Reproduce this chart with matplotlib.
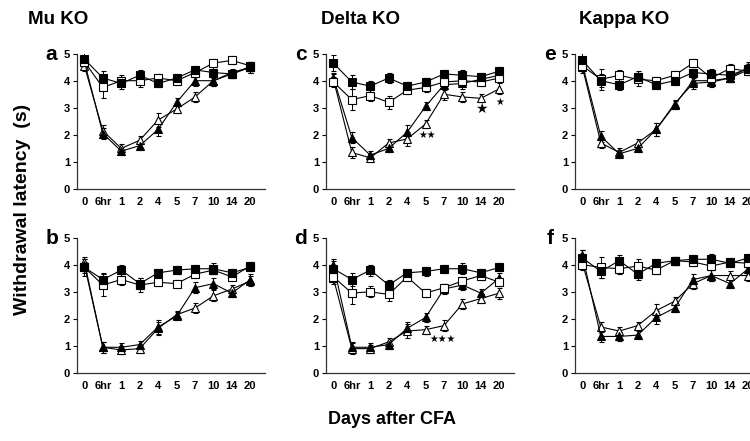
import matplotlib
matplotlib.use("Agg")
import matplotlib.pyplot as plt

plt.rcParams['font.family'] = ['Liberation Sans', 'DejaVu Sans']
plt.rcParams['font.weight'] = 'bold'

days = ["0", "6hr", "1", "2", "4", "5", "7", "10", "14", "20"]
titles = ["Mu KO", "Delta KO", "Kappa KO"]

# panel -> (filled square, open square, filled triangle, open triangle)
a_fsq = [4.8, 4.1, 3.9, 4.2, 3.9, 4.1, 4.4, 4.3, 4.25, 4.5]
a_osq = [4.7, 3.75, 4.0, 4.0, 4.1, 4.0, 4.3, 4.65, 4.75, 4.55]
a_ftr = [4.7, 2.05, 1.4, 1.6, 2.2, 3.2, 4.0, 4.0, 4.25, 4.5]
a_otr = [4.55, 2.15, 1.5, 1.8, 2.55, 2.95, 3.4, 4.0, 4.3, 4.5]

b_fsq = [3.9, 3.45, 3.8, 3.3, 3.7, 3.8, 3.85, 3.85, 3.7, 3.9]
b_osq = [3.9, 3.25, 3.45, 3.25, 3.35, 3.3, 3.65, 3.8, 3.55, 3.95]
b_ftr = [4.0, 0.95, 0.95, 1.05, 1.7, 2.1, 3.15, 3.3, 2.95, 3.45]
b_otr = [4.1, 0.95, 0.85, 0.9, 1.65, 2.15, 2.4, 2.85, 3.1, 3.4]

c_fsq = [4.65, 3.95, 3.8, 4.1, 3.8, 3.95, 4.25, 4.2, 4.15, 4.35]
c_osq = [3.95, 3.3, 3.45, 3.2, 3.65, 3.75, 3.95, 4.0, 3.95, 4.1]
c_ftr = [4.1, 1.9, 1.25, 1.5, 2.1, 3.05, 3.85, 3.9, 4.05, 4.2]
c_otr = [4.05, 1.35, 1.15, 1.7, 1.85, 2.4, 3.5, 3.4, 3.35, 3.7]

d_fsq = [3.85, 3.45, 3.8, 3.25, 3.7, 3.75, 3.85, 3.85, 3.7, 3.9]
d_osq = [3.55, 2.95, 3.0, 2.9, 3.55, 2.95, 3.15, 3.4, 3.6, 3.35]
d_ftr = [4.0, 0.95, 0.95, 1.05, 1.65, 2.05, 3.1, 3.25, 2.95, 3.5]
d_otr = [3.5, 0.9, 0.9, 1.15, 1.55, 1.6, 1.75, 2.55, 2.75, 2.95]

e_fsq = [4.75, 4.0, 3.85, 4.15, 3.85, 4.0, 4.3, 4.25, 4.2, 4.45]
e_osq = [4.55, 4.05, 4.2, 4.05, 4.0, 4.2, 4.65, 4.1, 4.45, 4.35]
e_ftr = [4.6, 1.95, 1.3, 1.5, 2.2, 3.15, 3.9, 3.95, 4.1, 4.5]
e_otr = [4.5, 1.7, 1.35, 1.7, 2.2, 3.1, 4.0, 4.0, 4.1, 4.4]

f_fsq = [4.25, 3.75, 4.15, 3.65, 4.05, 4.15, 4.2, 4.2, 4.05, 4.25]
f_osq = [4.0, 3.9, 3.85, 3.95, 3.8, 4.15, 4.1, 3.95, 4.1, 4.05]
f_ftr = [4.35, 1.35, 1.35, 1.4, 2.05, 2.4, 3.45, 3.6, 3.3, 3.85]
f_otr = [4.05, 1.7, 1.55, 1.75, 2.3, 2.65, 3.3, 3.6, 3.6, 3.6]

# error bar sizes (SEM), read roughly
err_sq = [0.3, 0.25, 0.2, 0.2, 0.15, 0.15, 0.15, 0.2, 0.15, 0.15]
err_osq = [0.2, 0.4, 0.2, 0.25, 0.15, 0.15, 0.15, 0.15, 0.15, 0.15]
err_tr = [0.2, 0.2, 0.15, 0.15, 0.25, 0.15, 0.2, 0.2, 0.15, 0.2]

panels = {
    "a": (a_fsq, a_osq, a_ftr, a_otr),
    "b": (b_fsq, b_osq, b_ftr, b_otr),
    "c": (c_fsq, c_osq, c_ftr, c_otr),
    "d": (d_fsq, d_osq, d_ftr, d_otr),
    "e": (e_fsq, e_osq, e_ftr, e_otr),
    "f": (f_fsq, f_osq, f_ftr, f_otr),
}
layout = [("a", 0, 0), ("b", 1, 0), ("c", 0, 1), ("d", 1, 1), ("e", 0, 2), ("f", 1, 2)]

# significance stars: panel, x index, y, text, size
stars = [("c", 5.1, 2.0, "★★", 7), ("c", 8, 2.95, "★", 10),
         ("c", 9, 3.2, "★", 7), ("d", 5.9, 1.25, "★★★", 7)]

fig = plt.figure(figsize=(7.5, 4.41), dpi=100)
lefts = [0.1027, 0.4347, 0.7667]
bottoms = [0.5714, 0.1542]
x = list(range(len(days)))
axes = {}

for name, row, col in layout:
    ax = fig.add_axes([lefts[col], bottoms[row], 0.2507, 0.307])
    axes[name] = ax
    fsq, osq, ftr, otr = panels[name]
    styles = [(otr, "^", "white", err_tr, 5.5), (ftr, "^", "black", err_tr, 5.5),
              (osq, "s", "white", err_osq, 5.5), (fsq, "s", "black", err_sq, 5.5)]
    for vals, mk, fc, err, ms in styles:
        ax.errorbar(x, vals, yerr=err, color="black", lw=0.8, marker=mk,
                    mfc=fc, mec="black", mew=0.8, ms=ms, capsize=1.8,
                    elinewidth=0.7, capthick=0.7)
    ax.set_xlim(-0.4, 9.8)
    ax.set_ylim(0, 5)
    ax.set_yticks([0, 1, 2, 3, 4, 5])
    ax.set_xticks(x)
    ax.set_xticklabels(days)
    for s in ["top", "right"]:
        ax.spines[s].set_visible(False)
    for s in ["left", "bottom"]:
        ax.spines[s].set_linewidth(0.9)
        ax.spines[s].set_color("#333333")
    ax.tick_params(axis="y", length=3, width=0.8, labelsize=8, pad=2)
    ax.tick_params(axis="x", length=0, labelsize=8, pad=6)
    for lab in ax.get_xticklabels() + ax.get_yticklabels():
        lab.set_fontweight("bold")
    ax.text(-0.135, 0.99, name, transform=ax.transAxes, fontsize=15,
            fontweight="bold", ha="center", va="center")

for p, xi, yv, txt, sz in stars:
    axes[p].text(xi, yv, txt, ha="center", va="center", fontsize=sz,
                 family="DejaVu Sans", color="black")

title_x = [0.078, 0.481, 0.832]
for t, tx in zip(titles, title_x):
    fig.text(tx, 0.955, t, ha="center", va="center", fontsize=13.5, fontweight="bold")

fig.text(0.03, 0.525, "Withdrawal latency  (s)", rotation=90, ha="center",
         va="center", fontsize=14, fontweight="bold")
fig.text(0.523, 0.048, "Days after CFA", ha="center", va="center",
         fontsize=13, fontweight="bold")

fig.savefig("out.png", dpi=100, facecolor="white")
